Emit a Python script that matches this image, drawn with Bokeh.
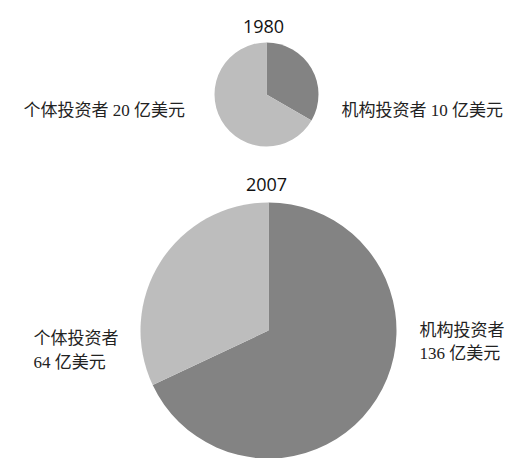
import math
from bokeh.plotting import figure
from bokeh.models import Range1d, ColumnDataSource
from bokeh.core.properties import value
from bokeh.embed import file_html
from bokeh.resources import INLINE

# data
years = ["1980", "2007"]
categories = ["机构投资者", "个体投资者"]
values_1980 = [10, 20]   # 亿美元
values_2007 = [136, 64]  # 亿美元
colors = ["#838383", "#bdbdbd"]

W, H = 507, 458
p = figure(width=W, height=H, output_backend="svg", toolbar_location=None,
           x_range=Range1d(0, W), y_range=Range1d(0, H), min_border=0)
p.axis.visible = False
p.grid.visible = False
p.outline_line_color = None
p.background_fill_color = "white"
p.border_fill_color = "white"


def y_of(img_y):
    return H - img_y


def pie(vals, cx, cy, r):
    total = float(sum(vals))
    starts, ends, cum = [], [], 0.0
    for v in vals:
        starts.append(math.pi / 2 - 2 * math.pi * cum / total)
        cum += v
        ends.append(math.pi / 2 - 2 * math.pi * cum / total)
    src = ColumnDataSource(dict(x=[cx] * len(vals), y=[y_of(cy)] * len(vals),
                                start=starts, end=ends, color=colors[:len(vals)]))
    p.wedge(x="x", y="y", radius=r, radius_units="screen", start_angle="start",
            end_angle="end", direction="clock", fill_color="color",
            line_color=None, source=src)


pie(values_1980, 266, 94, 52)
pie(values_2007, 268, 330, 128)

serif = value("'Liberation Serif', 'Noto Sans CJK SC'")
sans = value("Open Sans")
FS = "17px"

# titles
p.text(x=[263, 266], y=[y_of(26), y_of(184)], text=years,
       text_font=sans, text_font_size="18px", text_align="center",
       text_baseline="middle", text_color="#111111")

# 1980 labels
p.text(x=[23], y=[y_of(110)],
       text=[f"{categories[1]} {values_1980[1]} 亿美元"],
       text_font=serif, text_font_size=FS, text_align="left",
       text_baseline="middle", text_color="#222222")
p.text(x=[341], y=[y_of(110)],
       text=[f"{categories[0]} {values_1980[0]} 亿美元"],
       text_font=serif, text_font_size=FS, text_align="left",
       text_baseline="middle", text_color="#222222")

# 2007 labels
p.text(x=[33, 33], y=[y_of(338), y_of(362)],
       text=[categories[1], f"{values_2007[1]} 亿美元"],
       text_font=serif, text_font_size=FS, text_align="left",
       text_baseline="middle", text_color="#222222")
p.text(x=[419, 419], y=[y_of(330), y_of(353)],
       text=[categories[0], f"{values_2007[0]} 亿美元"],
       text_font=serif, text_font_size=FS, text_align="left",
       text_baseline="middle", text_color="#222222")

open("out.html", "w").write(file_html(p, INLINE))
